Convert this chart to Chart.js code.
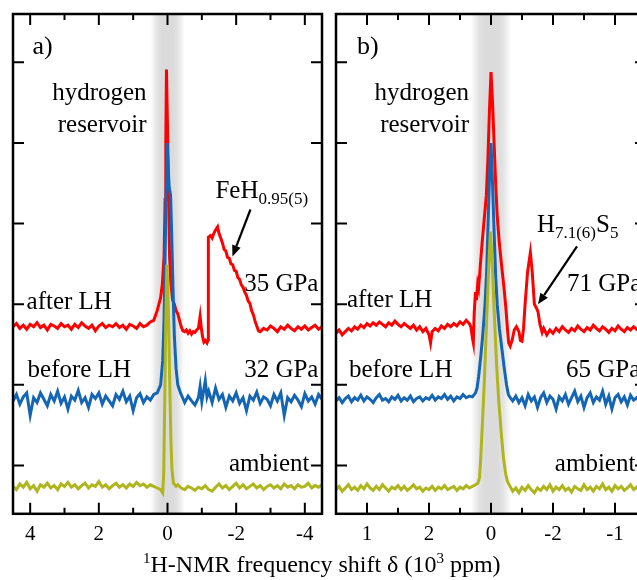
<!DOCTYPE html>
<html lang="en">
<head>
  <meta charset="UTF-8">
  <title>1H-NMR spectra</title>
  <script src="https://cdn.jsdelivr.net/npm/chart.js"></script>
  <style>
    html, body { margin: 0; padding: 0; background: #fff; }
    body { width: 637px; height: 580px; overflow: hidden; position: relative; font-family: "Liberation Serif", serif; }
    canvas { position: absolute; top: 0; }
    #chartA { left: 0; }
    #chartB { left: 330px; }
    .xtitle { position: absolute; left: 143px; top: 552px; font-size: 24px; line-height: 24px; white-space: nowrap; color: #000; }
    .xtitle sup { font-size: 15px; line-height: 0; vertical-align: 9px; }
  </style>
</head>
<body>

  <canvas id="chartA" width="330" height="580"></canvas>
  <canvas id="chartB" width="330" height="580"></canvas>
  <div class="xtitle"><sup>1</sup>H-NMR frequency shift δ (10<sup>3</sup> ppm)</div>

  <script>
    // ---- data: [shift (10^3 ppm), offset intensity] ----
    // panel a) FeH at 32/35 GPa
    const ambientA = [
      [4.5,0.74],[4.4,0.70],[4.3,0.77],[4.2,0.73],[4.1,0.79],[4.0,0.71],[3.9,0.75],[3.8,0.68],[3.7,0.76],[3.6,0.73],
      [3.5,0.78],[3.4,0.72],[3.3,0.75],[3.2,0.70],[3.1,0.77],[3.0,0.74],[2.9,0.79],[2.8,0.73],[2.7,0.76],[2.6,0.71],
      [2.5,0.75],[2.4,0.78],[2.3,0.72],[2.2,0.76],[2.1,0.74],[2.0,0.80],[1.9,0.73],[1.8,0.76],[1.7,0.71],[1.6,0.75],
      [1.5,0.78],[1.4,0.73],[1.3,0.76],[1.2,0.72],[1.1,0.77],[1.0,0.74],[0.9,0.79],[0.8,0.75],[0.7,0.77],[0.6,0.73],
      [0.5,0.76],[0.4,0.74],[0.3,0.72],[0.2,0.70],[0.14,0.66],[0.11,0.9],[0.08,1.8],[0.05,2.8],[0.02,3.49],[-0.01,3.2],
      [-0.04,2.6],[-0.07,1.9],[-0.1,1.3],[-0.13,0.95],[-0.17,0.78],[-0.25,0.74],[-0.3,0.76],[-0.4,0.72],[-0.5,0.70],[-0.6,0.74],
      [-0.7,0.72],[-0.8,0.69],[-0.9,0.73],[-1.0,0.71],[-1.1,0.75],[-1.2,0.70],[-1.3,0.68],[-1.4,0.73],[-1.5,0.77],[-1.6,0.72],
      [-1.7,0.75],[-1.8,0.70],[-1.9,0.74],[-2.0,0.78],[-2.1,0.72],[-2.2,0.76],[-2.3,0.71],[-2.4,0.74],[-2.5,0.77],[-2.6,0.72],
      [-2.7,0.75],[-2.8,0.70],[-2.9,0.74],[-3.0,0.76],[-3.1,0.72],[-3.2,0.75],[-3.3,0.71],[-3.4,0.77],[-3.5,0.73],[-3.6,0.75],
      [-3.7,0.71],[-3.8,0.76],[-3.9,0.73],[-4.0,0.74],[-4.1,0.78],[-4.2,0.72],[-4.3,0.75],[-4.4,0.73],[-4.5,0.76]
    ];
    const beforeA = [
      [4.5,1.80],[4.4,1.88],[4.3,1.76],[4.2,1.85],[4.1,1.90],[4.0,1.62],[3.9,1.84],[3.8,1.78],[3.7,1.90],[3.6,1.82],
      [3.5,1.74],[3.4,1.88],[3.3,1.80],[3.2,1.92],[3.1,1.77],[3.0,1.85],[2.9,1.70],[2.8,1.86],[2.7,1.81],[2.6,1.93],
      [2.5,1.78],[2.4,1.84],[2.3,1.72],[2.2,1.88],[2.1,1.83],[2.0,1.90],[1.9,1.76],[1.8,1.86],[1.7,1.80],[1.6,1.74],
      [1.5,1.88],[1.4,1.82],[1.3,1.92],[1.2,1.79],[1.1,1.86],[1.0,1.68],[0.9,1.84],[0.8,1.89],[0.7,1.78],[0.6,1.85],
      [0.5,1.81],[0.4,1.88],[0.3,1.90],[0.2,2.0],[0.14,2.3],[0.1,2.8],[0.07,3.6],[0.04,4.4],[0.01,5.0],[-0.02,4.7],
      [-0.05,4.45],[-0.09,4.35],[-0.12,3.9],[-0.16,3.2],[-0.2,2.6],[-0.25,2.2],[-0.3,2.0],[-0.38,1.9],[-0.45,1.83],[-0.5,1.78],
      [-0.6,1.86],[-0.7,1.80],[-0.8,1.75],[-0.9,1.84],[-0.95,1.98],[-1.0,1.79],[-1.1,2.05],[-1.15,1.85],[-1.2,1.92],[-1.3,1.78],
      [-1.4,1.96],[-1.5,1.82],[-1.6,1.88],[-1.7,1.72],[-1.8,1.86],[-1.9,1.80],[-2.0,1.90],[-2.1,1.77],[-2.2,1.84],[-2.3,1.68],
      [-2.4,1.86],[-2.5,1.81],[-2.6,1.91],[-2.7,1.77],[-2.8,1.85],[-2.9,1.82],[-3.0,1.74],[-3.1,1.88],[-3.2,1.80],[-3.3,1.90],
      [-3.4,1.62],[-3.5,1.84],[-3.6,1.79],[-3.7,1.87],[-3.8,1.81],[-3.9,1.73],[-4.0,1.89],[-4.1,1.80],[-4.2,1.85],[-4.3,1.76],
      [-4.4,1.88],[-4.5,1.82]
    ];
    const afterA = [
      [4.5,2.72],[4.4,2.76],[4.3,2.70],[4.2,2.74],[4.1,2.69],[4.0,2.75],[3.9,2.72],[3.8,2.77],[3.7,2.71],[3.6,2.74],
      [3.5,2.68],[3.4,2.75],[3.3,2.73],[3.2,2.70],[3.1,2.76],[3.0,2.72],[2.9,2.74],[2.8,2.69],[2.7,2.75],[2.6,2.71],
      [2.5,2.77],[2.4,2.73],[2.3,2.70],[2.2,2.74],[2.1,2.67],[2.0,2.73],[1.9,2.76],[1.8,2.71],[1.7,2.74],[1.6,2.72],
      [1.5,2.76],[1.4,2.71],[1.3,2.74],[1.2,2.69],[1.1,2.75],[1.0,2.73],[0.9,2.70],[0.8,2.76],[0.7,2.72],[0.6,2.74],
      [0.5,2.78],[0.4,2.80],[0.35,2.86],[0.3,2.92],[0.25,3.0],[0.2,3.08],[0.15,3.25],[0.1,3.6],[0.07,4.3],[0.05,5.0],
      [0.03,5.91],[0.0,5.2],[-0.03,4.4],[-0.06,3.6],[-0.1,3.25],[-0.15,3.05],[-0.2,3.0],[-0.25,2.92],[-0.3,2.88],[-0.35,2.8],
      [-0.4,2.72],[-0.45,2.67],[-0.5,2.66],[-0.55,2.68],[-0.6,2.64],[-0.65,2.67],[-0.7,2.63],[-0.75,2.66],[-0.8,2.65],[-0.85,2.68],
      [-0.9,2.70],[-0.95,2.85],[-0.98,2.72],[-1.02,2.60],[-1.06,2.53],[-1.1,2.55],[-1.15,2.52],[-1.18,2.56],[-1.19,3.83],[-1.25,3.85],
      [-1.3,3.82],[-1.35,3.88],[-1.4,3.92],[-1.46,3.96],[-1.5,3.88],[-1.55,3.82],[-1.6,3.76],[-1.65,3.68],[-1.7,3.66],[-1.75,3.58],
      [-1.8,3.57],[-1.85,3.50],[-1.9,3.49],[-1.95,3.42],[-2.0,3.41],[-2.05,3.33],[-2.1,3.31],[-2.15,3.24],[-2.2,3.21],[-2.25,3.15],
      [-2.3,3.11],[-2.35,3.04],[-2.4,3.01],[-2.45,2.92],[-2.5,2.87],[-2.55,2.79],[-2.6,2.73],[-2.65,2.67],[-2.7,2.66],[-2.8,2.70],
      [-2.9,2.68],[-3.0,2.73],[-3.1,2.70],[-3.2,2.66],[-3.3,2.72],[-3.4,2.69],[-3.5,2.74],[-3.6,2.70],[-3.7,2.67],[-3.8,2.72],
      [-3.9,2.69],[-4.0,2.73],[-4.1,2.68],[-4.2,2.71],[-4.3,2.74],[-4.4,2.69],[-4.5,2.72]
    ];

    // panel b) H-S at 65/71 GPa
    const ambientB = [
      [5.0,0.70],[4.9,0.74],[4.8,0.68],[4.7,0.72],[4.6,0.76],[4.5,0.70],[4.4,0.73],[4.3,0.69],[4.2,0.75],[4.1,0.71],
      [4.0,0.77],[3.9,0.72],[3.8,0.69],[3.7,0.74],[3.6,0.70],[3.5,0.76],[3.4,0.72],[3.3,0.68],[3.2,0.73],[3.1,0.71],
      [3.0,0.75],[2.9,0.70],[2.8,0.74],[2.7,0.69],[2.6,0.72],[2.5,0.76],[2.4,0.71],[2.3,0.73],[2.2,0.68],[2.1,0.72],
      [2.0,0.70],[1.9,0.74],[1.8,0.69],[1.7,0.73],[1.6,0.71],[1.5,0.75],[1.4,0.70],[1.3,0.72],[1.2,0.74],[1.1,0.69],
      [1.0,0.73],[0.9,0.71],[0.8,0.75],[0.7,0.72],[0.6,0.74],[0.5,0.76],[0.42,0.78],[0.37,0.85],[0.33,1.1],[0.28,1.5],
      [0.22,2.0],[0.15,2.7],[0.08,3.4],[0.02,3.9],[-0.04,3.5],[-0.11,2.85],[-0.18,2.25],[-0.25,1.8],[-0.33,1.4],[-0.4,1.1],
      [-0.47,0.9],[-0.53,0.8],[-0.6,0.75],[-0.7,0.68],[-0.8,0.72],[-0.9,0.66],[-1.0,0.73],[-1.1,0.69],[-1.2,0.75],[-1.3,0.70],
      [-1.4,0.66],[-1.5,0.72],[-1.6,0.69],[-1.7,0.74],[-1.8,0.70],[-1.9,0.76],[-2.0,0.68],[-2.1,0.73],[-2.2,0.70],[-2.3,0.75],
      [-2.4,0.69],[-2.5,0.72],[-2.6,0.67],[-2.7,0.74],[-2.8,0.71],[-2.9,0.69],[-3.0,0.76],[-3.1,0.70],[-3.2,0.73],[-3.3,0.68],
      [-3.4,0.74],[-3.5,0.71],[-3.6,0.77],[-3.7,0.70],[-3.8,0.73],[-3.9,0.68],[-4.0,0.75],[-4.1,0.71],[-4.2,0.74],[-4.3,0.69],
      [-4.4,0.72],[-4.5,0.76],[-4.6,0.70],[-4.7,0.73],[-4.8,0.68],[-4.9,0.72],[-5.0,0.71]
    ];
    const beforeB = [
      [5.0,1.80],[4.9,1.84],[4.8,1.78],[4.7,1.83],[4.6,1.86],[4.5,1.79],[4.4,1.84],[4.3,1.81],[4.2,1.87],[4.1,1.80],
      [4.0,1.85],[3.9,1.82],[3.8,1.78],[3.7,1.84],[3.6,1.88],[3.5,1.81],[3.4,1.83],[3.3,1.79],[3.2,1.85],[3.1,1.82],
      [3.0,1.87],[2.9,1.80],[2.8,1.84],[2.7,1.81],[2.6,1.86],[2.5,1.79],[2.4,1.83],[2.3,1.85],[2.2,1.80],[2.1,1.84],
      [2.0,1.82],[1.9,1.87],[1.8,1.81],[1.7,1.85],[1.6,1.83],[1.5,1.88],[1.4,1.82],[1.3,1.86],[1.2,1.80],[1.1,1.85],
      [1.0,1.83],[0.9,1.88],[0.8,1.84],[0.7,1.86],[0.6,1.85],[0.5,1.90],[0.45,1.96],[0.4,2.1],[0.33,2.35],[0.27,2.6],
      [0.2,2.95],[0.14,3.4],[0.08,4.2],[0.03,4.8],[0.0,5.0],[-0.04,4.6],[-0.1,3.9],[-0.15,3.35],[-0.2,3.0],[-0.27,2.7],
      [-0.35,2.45],[-0.43,2.2],[-0.5,2.0],[-0.56,1.88],[-0.62,1.84],[-0.7,1.80],[-0.8,1.86],[-0.9,1.78],[-1.0,1.84],[-1.1,1.74],
      [-1.2,1.88],[-1.3,1.80],[-1.4,1.85],[-1.5,1.72],[-1.6,1.84],[-1.7,1.90],[-1.8,1.78],[-1.9,1.86],[-2.0,1.82],[-2.1,1.70],
      [-2.2,1.85],[-2.3,1.80],[-2.4,1.88],[-2.5,1.76],[-2.6,1.84],[-2.7,1.92],[-2.8,1.79],[-2.9,1.86],[-3.0,1.72],[-3.1,1.84],
      [-3.2,1.90],[-3.3,1.78],[-3.4,1.85],[-3.5,1.81],[-3.6,1.92],[-3.7,1.76],[-3.8,1.86],[-3.9,1.70],[-4.0,1.84],[-4.1,1.88],
      [-4.2,1.79],[-4.3,1.85],[-4.4,1.75],[-4.5,1.87],[-4.6,1.81],[-4.7,1.84],[-4.8,1.78],[-4.9,1.86],[-5.0,1.82]
    ];
    const afterB = [
      [5.0,2.64],[4.9,2.68],[4.8,2.62],[4.7,2.66],[4.6,2.70],[4.5,2.67],[4.4,2.72],[4.3,2.69],[4.2,2.74],[4.1,2.71],
      [4.0,2.76],[3.9,2.73],[3.8,2.77],[3.7,2.74],[3.6,2.78],[3.5,2.75],[3.4,2.72],[3.3,2.77],[3.2,2.74],[3.1,2.79],
      [3.0,2.75],[2.9,2.72],[2.8,2.76],[2.7,2.73],[2.6,2.70],[2.5,2.74],[2.4,2.68],[2.3,2.72],[2.2,2.66],[2.1,2.70],
      [2.0,2.62],[1.95,2.52],[1.9,2.66],[1.8,2.70],[1.7,2.67],[1.6,2.73],[1.5,2.70],[1.4,2.75],[1.3,2.72],[1.2,2.76],
      [1.1,2.73],[1.0,2.78],[0.9,2.75],[0.8,2.80],[0.7,2.76],[0.65,2.72],[0.6,2.58],[0.57,2.52],[0.54,2.9],[0.5,3.15],
      [0.47,3.05],[0.43,3.25],[0.4,3.2],[0.36,3.4],[0.3,3.7],[0.22,4.05],[0.15,4.35],[0.1,4.8],[0.05,5.4],[0.0,5.88],
      [-0.05,5.5],[-0.1,5.0],[-0.15,4.5],[-0.2,4.1],[-0.27,3.75],[-0.35,3.45],[-0.42,3.2],[-0.48,2.95],[-0.53,2.7],[-0.57,2.52],
      [-0.62,2.48],[-0.68,2.55],[-0.75,2.68],[-0.82,2.72],[-0.9,2.66],[-0.95,2.55],[-1.0,2.54],[-1.05,2.7],[-1.1,3.0],[-1.18,3.4],
      [-1.27,3.64],[-1.33,3.4],[-1.4,3.0],[-1.47,2.95],[-1.52,2.9],[-1.58,2.75],[-1.65,2.65],[-1.7,2.70],[-1.8,2.62],[-1.9,2.68],
      [-2.0,2.64],[-2.1,2.70],[-2.2,2.66],[-2.3,2.72],[-2.4,2.68],[-2.5,2.65],[-2.6,2.70],[-2.7,2.67],[-2.8,2.73],[-2.9,2.69],
      [-3.0,2.66],[-3.1,2.71],[-3.2,2.68],[-3.3,2.74],[-3.4,2.70],[-3.5,2.67],[-3.6,2.72],[-3.7,2.69],[-3.8,2.65],[-3.9,2.70],
      [-4.0,2.67],[-4.1,2.73],[-4.2,2.69],[-4.3,2.66],[-4.4,2.71],[-4.5,2.68],[-4.6,2.72],[-4.7,2.69],[-4.8,2.66],[-4.9,2.70],
      [-5.0,2.68]
    ];

    // ---- ticks ----
    const majorTicks = [4, 2, 0, -2, -4];
    const minorTicks = [3, 1, -1, -3];
    const tickLabelsA = ['4', '2', '0', '-2', '-4'];
    const tickLabelsB = ['1', '2', '0', '-2', '-1'];
    const yTicks = [1, 2, 3, 4, 5, 6];

    const RED = '#ff0000', BLUE = '#1565b5', OLIVE = '#afb51d';
    const FONT = '"Liberation Serif", "Times New Roman", serif';

    // band, frame, inward ticks, labels and arrows
    const decor = {
      id: 'decor',
      beforeDatasetsDraw(chart, args, opts) {
        const {ctx, chartArea: a, scales: {x}} = chart;
        const x1 = x.getPixelForValue(opts.band), x2 = x.getPixelForValue(-opts.band);
        const g = ctx.createLinearGradient(x1, 0, x2, 0);
        g.addColorStop(0, 'rgba(215,215,215,0)');
        g.addColorStop(0.2, 'rgba(215,215,215,0.7)');
        g.addColorStop(0.35, 'rgba(215,215,215,0.9)');
        g.addColorStop(0.65, 'rgba(215,215,215,0.9)');
        g.addColorStop(0.8, 'rgba(215,215,215,0.7)');
        g.addColorStop(1, 'rgba(215,215,215,0)');
        ctx.save();
        ctx.fillStyle = g;
        ctx.fillRect(x1, a.top, x2 - x1, a.bottom - a.top);
        ctx.restore();
      },
      afterDatasetsDraw(chart, args, opts) {
        const {ctx, chartArea: a, scales: {x, y}} = chart;
        ctx.save();
        ctx.strokeStyle = '#000';
        ctx.lineWidth = 2;
        ctx.beginPath();
        majorTicks.concat(minorTicks).forEach(v => {
          const px = x.getPixelForValue(v), len = majorTicks.includes(v) ? 11 : 6;
          ctx.moveTo(px, a.bottom); ctx.lineTo(px, a.bottom - len);
          ctx.moveTo(px, a.top); ctx.lineTo(px, a.top + len);
        });
        yTicks.forEach(v => {
          const py = y.getPixelForValue(v);
          ctx.moveTo(a.left, py); ctx.lineTo(a.left + 11, py);
          ctx.moveTo(a.right, py); ctx.lineTo(a.right - 11, py);
        });
        ctx.stroke();
        ctx.lineWidth = 2.5;
        ctx.strokeRect(a.left, a.top, a.right - a.left, a.bottom - a.top);

        ctx.fillStyle = '#000';
        ctx.textBaseline = 'alphabetic';
        opts.labels.forEach(l => {
          const size = l.size || 25;
          const fonts = l.segs.map(s => (s[1] ? 17 : size) + 'px ' + FONT);
          let w = 0;
          l.segs.forEach((s, i) => { ctx.font = fonts[i]; w += ctx.measureText(s[0]).width; });
          let cx = x.getPixelForValue(l.x) - (l.align === 'right' ? w : 0);
          const by = y.getPixelForValue(l.y);
          l.segs.forEach((s, i) => {
            ctx.font = fonts[i];
            ctx.fillText(s[0], cx, s[1] ? by + 6 : by);
            cx += ctx.measureText(s[0]).width;
          });
        });

        opts.arrows.forEach(ar => {
          const x1 = x.getPixelForValue(ar[0]), y1 = y.getPixelForValue(ar[1]);
          const x2 = x.getPixelForValue(ar[2]), y2 = y.getPixelForValue(ar[3]);
          const ang = Math.atan2(y2 - y1, x2 - x1), hl = 11, hw = 4.5;
          const bx = x2 - hl * Math.cos(ang), by = y2 - hl * Math.sin(ang);
          ctx.lineWidth = 2.2;
          ctx.beginPath(); ctx.moveTo(x1, y1); ctx.lineTo(bx, by); ctx.stroke();
          ctx.beginPath();
          ctx.moveTo(x2, y2);
          ctx.lineTo(bx + hw * Math.sin(ang), by - hw * Math.cos(ang));
          ctx.lineTo(bx - hw * Math.sin(ang), by + hw * Math.cos(ang));
          ctx.closePath(); ctx.fill();
        });
        ctx.restore();
      }
    };

    function toXY(pairs) {
      return pairs.map(p => ({x: p[0], y: p[1]}));
    }

    function drawPanel(canvasId, series, range, tickLabels, padding, extra) {
      const ctx = document.getElementById(canvasId).getContext('2d');
      const colors = [OLIVE, BLUE, RED]; // first dataset is drawn on top
      new Chart(ctx, {
        type: 'line',
        data: {
          datasets: series.map((s, i) => ({
            data: toXY(s),
            borderColor: colors[i],
            borderWidth: 3,
            pointRadius: 0,
            tension: 0,
            fill: false
          }))
        },
        options: {
          responsive: false,
          animation: false,
          events: [],
          layout: {padding: padding},
          plugins: {legend: {display: false}, tooltip: {enabled: false}, decor: extra},
          scales: {
            x: {
              type: 'linear',
              min: -range,
              max: range,
              reverse: true,
              afterBuildTicks: s => { s.ticks = majorTicks.map(v => ({value: v})); },
              grid: {display: false, drawTicks: false},
              border: {display: false},
              ticks: {
                maxRotation: 0,
                autoSkip: false,
                padding: 8,
                color: '#000',
                font: {family: FONT, size: 21},
                callback: v => tickLabels[majorTicks.indexOf(v)]
              }
            },
            y: {type: 'linear', min: 0.4, max: 6.6, display: false}
          }
        },
        plugins: [decor]
      });
    }

    drawPanel('chartA', [ambientA, beforeA, afterA], 4.5, tickLabelsA,
      {left: 13, top: 14, right: 8, bottom: 25},
      {
        band: 0.5,
        labels: [
          {x: 3.93, y: 6.105, segs: [['a)']], size: 26},
          {x: 0.61, y: 5.536, segs: [['hydrogen']], align: 'right'},
          {x: 0.61, y: 5.14, segs: [['reservoir']], align: 'right'},
          {x: -1.397, y: 4.323, segs: [['FeH'], ['0.95(5)', true]]},
          {x: -4.396, y: 3.16, segs: [['35 GPa']], align: 'right'},
          {x: 4.105, y: 2.937, segs: [['after LH']]},
          {x: 4.076, y: 2.095, segs: [['before LH']]},
          {x: -4.396, y: 2.095, segs: [['32 GPa']], align: 'right'},
          {x: -4.134, y: 0.932, segs: [['ambient']], align: 'right'}
        ],
        arrows: [[-2.416, 4.175, -1.892, 3.593]]
      });

    drawPanel('chartB', [ambientB, beforeB, afterB], 5, tickLabelsB,
      {left: 6, top: 14, right: 14, bottom: 25},
      {
        band: 0.65,
        labels: [
          {x: 4.32, y: 6.105, segs: [['b)']], size: 26},
          {x: 0.71, y: 5.536, segs: [['hydrogen']], align: 'right'},
          {x: 0.71, y: 5.14, segs: [['reservoir']], align: 'right'},
          {x: -1.48, y: 3.89, segs: [['H'], ['7.1(6)', true], ['S'], ['5', true]]},
          {x: -2.45, y: 3.17, segs: [['71 GPa']]},
          {x: 4.645, y: 2.96, segs: [['after LH']]},
          {x: 4.58, y: 2.095, segs: [['before LH']]},
          {x: -2.42, y: 2.095, segs: [['65 GPa']]},
          {x: -2.06, y: 0.932, segs: [['ambient']]}
        ],
        arrows: [[-2.774, 3.717, -1.516, 2.999]]
      });
  </script>

</body>
</html>
